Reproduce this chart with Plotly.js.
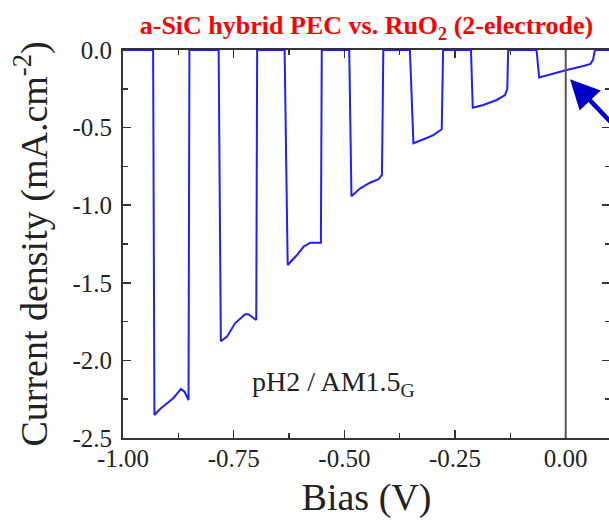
<!DOCTYPE html>
<html>
<head>
<meta charset="utf-8">
<script src="https://cdn.plot.ly/plotly-3.0.1.min.js"></script>
<style>
html,body{margin:0;padding:0;overflow:hidden;background:#fff;}
#chart{width:612px;height:530px;}
</style>
</head>
<body>
<div id="chart"></div>
<script>
// Chopped-light bias sweep (V) and current density (mA/cm^2)
const bias = [
  -1.000, -0.932, -0.929, -0.915, -0.905, -0.886, -0.869, -0.861, -0.852, -0.850,
  -0.784, -0.779, -0.765, -0.747, -0.724, -0.717, -0.699, -0.697,
  -0.635, -0.628, -0.607, -0.592, -0.577, -0.553, -0.551,
  -0.489, -0.484, -0.464, -0.442, -0.423, -0.415, -0.412,
  -0.352, -0.344, -0.321, -0.299, -0.280, -0.277,
  -0.214, -0.210, -0.186, -0.156, -0.137, -0.132, -0.130,
  -0.066, -0.060, -0.028, 0.002, 0.040, 0.056, 0.062, 0.066,
  0.100
];
const current = [
  0.000, 0.000, -2.352, -2.310, -2.287, -2.242, -2.184, -2.202, -2.255, 0.000,
  0.000, -1.877, -1.847, -1.761, -1.703, -1.703, -1.740, 0.000,
  0.000, -1.385, -1.321, -1.267, -1.242, -1.242, 0.000,
  0.000, -0.943, -0.891, -0.855, -0.833, -0.805, 0.000,
  0.000, -0.601, -0.575, -0.548, -0.511, 0.000,
  0.000, -0.372, -0.354, -0.322, -0.290, -0.250, 0.000,
  0.000, -0.177, -0.150, -0.129, -0.103, -0.090, -0.060, 0.000,
  0.000
];
const xTickVals = [-1.00, -0.75, -0.50, -0.25, 0.00];
const xTickText = ["-1.00", "-0.75", "-0.50", "-0.25", "0.00"];
const yTickVals = [0.0, -0.5, -1.0, -1.5, -2.0, -2.5];
const yTickText = ["0.0", "-0.5", "-1.0", "-1.5", "-2.0", "-2.5"];
const arrowTip = {x: 0.0097, y: -0.189};

const serif = "Liberation Serif, Times New Roman, serif";
const axisCol = "#333333";

const trace = {
  x: bias, y: current, type: "scatter", mode: "lines",
  line: {color: "#1f1fff", width: 2},
  hoverinfo: "skip"
};

const axisCommon = {
  showline: true, linecolor: axisCol, linewidth: 2,
  mirror: "ticks", ticks: "inside", ticklen: 8, tickwidth: 1.5, tickcolor: axisCol,
  showgrid: false, zeroline: false,
  tickfont: {family: serif, size: 25, color: "#222"}
};

const layout = {
  width: 612, height: 530,
  margin: {l: 123, r: 2, t: 50, b: 92},
  paper_bgcolor: "#fff", plot_bgcolor: "#fff",
  showlegend: false,
  title: {
    text: "<b>a-SiC hybrid PEC vs. RuO<sub>2</sub> (2-electrode)</b>",
    font: {family: serif, size: 26, color: "#ff0000"},
    xref: "paper", x: 0.5, xanchor: "center",
    yref: "container", y: 1 - 25/530, yanchor: "middle"
  },
  xaxis: Object.assign({}, axisCommon, {
    range: [-1, 0.1],
    tickmode: "array", tickvals: xTickVals, ticktext: xTickText,
    minor: {dtick: 0.125, ticks: "inside", ticklen: 5, tickwidth: 1.5, tickcolor: axisCol, showgrid: false},
    ticklabelstandoff: -3,
    title: {text: "Bias (V)", font: {family: serif, size: 38, color: "#222"}, standoff: 12}
  }),
  yaxis: Object.assign({}, axisCommon, {
    range: [-2.5, 0],
    tickmode: "array", tickvals: yTickVals, ticktext: yTickText,
    minor: {dtick: 0.25, ticks: "inside", ticklen: 5, tickwidth: 1.5, tickcolor: axisCol, showgrid: false},
    ticklabelstandoff: 4,
    title: {text: "Current density (mA.cm<sup>-2</sup>)", font: {family: serif, size: 38, color: "#222"}, standoff: 13}
  }),
  shapes: [{
    type: "line", xref: "x", yref: "paper", x0: 0, x1: 0, y0: 0, y1: 1,
    line: {color: "#555555", width: 2}
  }],
  annotations: [
    {
      xref: "x", yref: "y", x: -0.7126, y: -2.146,
      xanchor: "left", yanchor: "middle", showarrow: false,
      text: "pH2 / AM1.5<sub>G</sub>",
      font: {family: serif, size: 28, color: "#222"}
    },
    {
      xref: "x", yref: "y", x: arrowTip.x, y: arrowTip.y,
      axref: "pixel", ayref: "pixel", ax: 42, ay: 44,
      showarrow: true, text: "", arrowhead: 2, arrowsize: 1.3,
      arrowwidth: 4.5, arrowcolor: "#0000c8", standoff: 0
    }
  ]
};

Plotly.newPlot("chart", [trace], layout, {staticPlot: true, displayModeBar: false});
</script>
</body>
</html>
